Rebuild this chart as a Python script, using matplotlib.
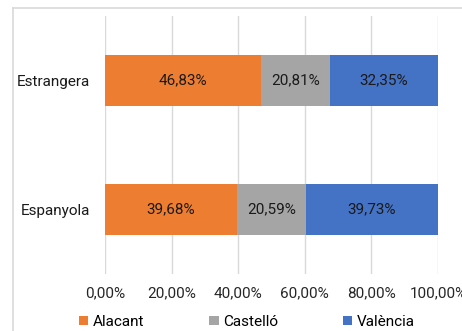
import matplotlib
matplotlib.use("Agg")
import matplotlib.pyplot as plt
from matplotlib.patches import Patch
from matplotlib.lines import Line2D
import numpy as np

categories = ["Espanyola", "Estrangera"]
series = ["Alacant", "Castelló", "València"]
alacant = [39.68, 46.83]
castello = [20.59, 20.81]
valencia = [39.73, 32.35]
colors = ["#ED7D31", "#A5A5A5", "#4472C4"]
xticks = [0, 20, 40, 60, 80, 100]
xticklabels = ["0,00%", "20,00%", "40,00%", "60,00%", "80,00%", "100,00%"]

plt.rcParams['font.family'] = ['Roboto', 'DejaVu Sans']
fs = 11

W, H = 462, 331
fig = plt.figure(figsize=(W / 100, H / 100), dpi=100)
ax = fig.add_axes([105 / W, (H - 274) / H, (438 - 105) / W, (274 - 16) / H])

y = np.arange(len(categories))
left = np.zeros(len(categories))
for name, vals, c in zip(series, [alacant, castello, valencia], colors):
    vals = np.array(vals)
    ax.barh(y, vals, left=left, height=0.4, color=c, label=name, zorder=3)
    for yi, l, v in zip(y, left, vals):
        ax.text(l + v / 2, yi, f"{v:.2f}%".replace(".", ","), ha="center", va="center",
                fontsize=fs, color="#1a1a1a", zorder=4)
    left = left + vals

ax.set_xlim(0, 100)
ax.set_ylim(-0.5, 1.5)
ax.set_xticks(xticks)
ax.set_xticklabels(xticklabels, fontsize=fs, color="#262626")
ax.set_yticks(y)
ax.set_yticklabels(categories, fontsize=fs, color="#1a1a1a")
ax.tick_params(axis="both", length=0)
ax.tick_params(axis="x", pad=9)
ax.tick_params(axis="y", pad=11)
for s in ax.spines.values():
    s.set_visible(False)
ax.grid(axis="x", color="#D9D9D9", linewidth=1.0, zorder=0)
ax.set_axisbelow(True)

# chart frame
fig.add_artist(Line2D([13 / W, 13 / W], [0, 1 - 7.5 / H], color="#D9D9D9", linewidth=1.2))
fig.add_artist(Line2D([13 / W, 1], [1 - 7.5 / H, 1 - 7.5 / H], color="#D9D9D9", linewidth=1.2))

handles = [Patch(facecolor=c, edgecolor="none") for c in colors]
fig.legend(handles, series, loc="center", bbox_to_anchor=(247 / W, 1 - 322 / H),
           ncol=3, frameon=False, fontsize=fs, handlelength=0.6, handleheight=0.6,
           handletextpad=0.3, columnspacing=4.25, borderpad=0, borderaxespad=0)

fig.savefig("out.png", dpi=100)
